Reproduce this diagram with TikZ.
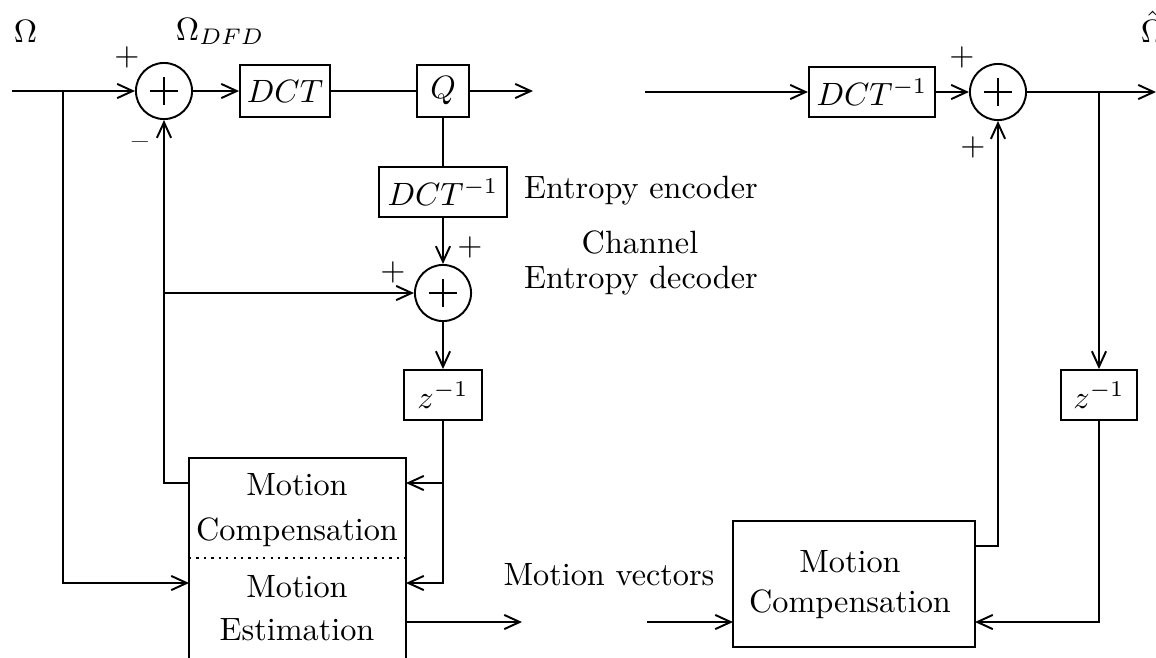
\documentclass[tikz,border=0pt]{standalone}
\usetikzlibrary{arrows.meta}
\tikzset{
  blk/.style={draw, inner sep=0pt, minimum height=16pt},
  sumc/.style={draw, circle, inner sep=0pt, minimum size=17.4pt},
  lbl/.style={inner sep=0pt},
  arr/.style={-{Straight Barb[length=4.8pt,width=4.4pt]}},
}
\newcommand{\plusin}[1]{\draw ([xshift=-4.2pt]#1.center) -- ([xshift=4.2pt]#1.center) ([yshift=-4.2pt]#1.center) -- ([yshift=4.2pt]#1.center);}
\begin{document}
\begin{tikzpicture}[x=0.31pt,y=-0.31pt,line width=0.6pt]
\useasboundingbox (0,0) rectangle (1156,657);
\clip (0,0) rectangle (1156,657);

% ---------- encoder ----------
\node[sumc] (s1) at (164,91) {};
\plusin{s1}
\node[blk, minimum width=27.9pt] (dct) at (285,91) {$DCT$};
\node[blk, minimum width=16.1pt] (q) at (443,91) {$Q$};
\node[blk, minimum width=39.4pt, minimum height=15.5pt] (idct) at (443,192) {$DCT^{-1}$};
\node[sumc] (s2) at (443,293) {};
\plusin{s2}
\node[blk, minimum width=23.9pt, minimum height=15.5pt] (z1) at (443,395) {$z^{-1}$};
\node[draw, inner sep=0pt, minimum width=67.3pt, minimum height=64.2pt] (me) at (297.5,561.5) {};
\coordinate (dl) at (189,558);
\coordinate (dr) at (406,558);
\draw[dash pattern=on 0.7pt off 1.6pt] (dl) -- (dr);
\node[lbl, anchor=base] (me1) at (297,495) {Motion};
\node[lbl, anchor=base] (me2) at (297,540) {Compensation};
\node[lbl, anchor=base] (me3) at (297,597) {Motion};
\node[lbl, anchor=base] (me4) at (297,640) {Estimation};

\coordinate (in) at (12,91);
\coordinate (b1) at (63,91);
\coordinate (mL1) at (189,483);
\coordinate (mL2) at (189,583);
\coordinate (mR1) at (406,483);
\coordinate (mR2) at (406,583);
\coordinate (j1) at (443,483);
\coordinate (c1) at (164,293);
\coordinate (qout) at (533,91);
\coordinate (mO) at (406,622);
\coordinate (mvout) at (522,622);

\draw[arr] (in) -- (s1);
\draw[arr] (b1) |- (mL2);
\draw[arr] (s1) -- (dct);
\draw (dct) -- (q);
\draw[arr] (q) -- (qout);
\draw (q) -- (idct);
\draw[arr] (idct) -- (s2);
\draw[arr] (s2) -- (z1);
\draw[arr] (z1) |- (mR2);
\draw[arr] (j1) -- (mR1);
\draw[arr] (mL1) -| (s1);
\draw[arr] (c1) -- (s2);
\draw[arr] (mO) -- (mvout);

% labels
\node[lbl, anchor=base west] (om) at (13,42) {$\Omega$};
\node[lbl, anchor=base west] (omd) at (175,40) {$\Omega_{DFD}$};
\node[lbl] (p1) at (127,57) {$+$};
\node[lbl] (m1) at (140,146) {--};
\node[lbl] (p2) at (470,247) {$+$};
\node[lbl] (p3) at (393,272) {$+$};
\node[lbl, anchor=base] (ee) at (641,198) {Entropy encoder};
\node[lbl, anchor=base] (ch) at (640,253) {Channel};
\node[lbl, anchor=base] (ed) at (641,288) {Entropy decoder};
\node[lbl, anchor=base] (mv) at (609,585) {Motion vectors};

% ---------- decoder ----------
\node[blk, minimum width=39.1pt, minimum height=15.5pt] (idct2) at (872,92) {$DCT^{-1}$};
\node[sumc] (s3) at (998,92) {};
\plusin{s3}
\node[blk, minimum width=23.3pt, minimum height=15.5pt] (z2) at (1099,395) {$z^{-1}$};
\node[draw, inner sep=0pt, minimum width=75pt, minimum height=39pt] (mc) at (854,584) {};
\node[lbl, anchor=base] (mc1) at (850,572) {Motion};
\node[lbl, anchor=base] (mc2) at (850,612) {Compensation};

\coordinate (rin) at (645,92);
\coordinate (out) at (1156,92);
\coordinate (b3) at (1099,92);
\coordinate (mvin) at (647,622);
\coordinate (mcL) at (733,622);
\coordinate (mcR1) at (975,546);
\coordinate (mcR2) at (975,622);

\draw[arr] (rin) -- (idct2);
\draw[arr] (idct2) -- (s3);
\draw[arr] (s3) -- (out);
\draw[arr] (b3) -- (z2);
\draw[arr] (z2) |- (mcR2);
\draw[arr] (mcR1) -| (s3);
\draw[arr] (mvin) -- (mcL);

\node[lbl] (p4) at (962,57) {$+$};
\node[lbl] (p5) at (973,147) {$+$};
\node[lbl, anchor=base west] (omh) at (1140,42) {$\hat\Omega$};
\end{tikzpicture}
\end{document}
